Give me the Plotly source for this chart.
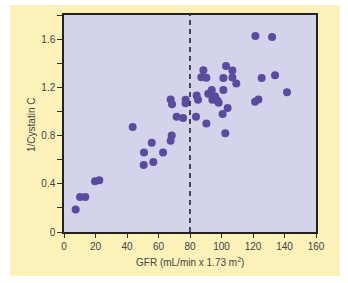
import plotly.graph_objects as go

gfr = [7.4, 10.2, 13.5, 19.7, 22.4, 43.6, 50.8, 50.6, 55.7, 56.7, 62.9, 67.7, 68.4,
       67.7, 68.6, 71.5, 75.6, 77.2, 77.2, 83.8, 84.2, 85.1, 87.2, 88.5, 90.4, 90.4,
       91.6, 93.8, 94.2, 95.9, 97.4, 98.2, 100.7, 101.2, 101.2, 102.4, 102.9, 103.9,
       106.9, 106.9, 109.4, 121.5, 121.3, 123.4, 125.5, 132.1, 134.0, 141.6]
inv_cystatin = [0.187, 0.29, 0.29, 0.42, 0.43, 0.87, 0.66, 0.555, 0.74, 0.58, 0.66, 0.756, 0.80,
                1.10, 1.06, 0.957, 0.946, 1.097, 1.067, 0.957, 1.133, 1.097, 1.284, 1.342, 1.28, 0.90,
                1.146, 1.177, 1.097, 1.127, 1.09, 1.072, 0.979, 1.177, 1.278, 0.82, 1.377, 1.028,
                1.339, 1.281, 1.232, 1.625, 1.08, 1.10, 1.278, 1.617, 1.30, 1.16]

cutoff = 80
x_title = "GFR (mL/min x 1.73 m<sup>2</sup>)"
y_title = "1/Cystatin C"

fig = go.Figure()
fig.add_trace(go.Scatter(
    x=gfr, y=inv_cystatin, mode="markers",
    marker=dict(size=8, color="#5A4B9E", line=dict(width=0)),
    hoverinfo="skip", showlegend=False))

# figure is the yellow panel (330x271), placed at (10,5) in the white page
W, H = 330, 271
l, r, t, b = 54, 24, 8, 44
pw, ph = W - l - r, H - t - b
OX, OY = 10, 5
def px_x(p): return (p - OX - l) / pw
def px_y(p): return (H - b - (p - OY)) / ph

fig.add_shape(type="line", xref="x", yref="paper", x0=cutoff, x1=cutoff, y0=0, y1=1,
              line=dict(color="#1a1a1a", width=1.5, dash="5px,4px"))

fig.add_annotation(text=x_title, xref="paper", yref="paper",
                   x=px_x(190), y=px_y(262), showarrow=False,
                   xanchor="center", yanchor="middle",
                   font=dict(size=10, color="#444"))
fig.add_annotation(text=y_title, xref="paper", yref="paper",
                   x=px_x(32), y=px_y(124), showarrow=False, textangle=-90,
                   xanchor="center", yanchor="middle",
                   font=dict(size=10, color="#444"))

fig.update_layout(
    width=W, height=H,
    margin=dict(l=l, r=r, t=t, b=b),
    paper_bgcolor="#FBF1B9", plot_bgcolor="#D4D3EC",
    font=dict(family="Liberation Sans, Arial, sans-serif", size=10, color="#444"),
    xaxis=dict(range=[0, 160], tick0=0, dtick=20, ticks="outside", ticklen=4,
               tickcolor="#333", showline=True, linecolor="#222", linewidth=1.5,
               mirror=True, showgrid=False, zeroline=False),
    yaxis=dict(range=[0, 1.8], tick0=0, dtick=0.4, ticks="outside",
               ticklen=5, tickcolor="#333", showline=True, linecolor="#222",
               linewidth=1.5, mirror=True, showgrid=False, zeroline=False,
               minor=dict(dtick=0.2, ticks="outside", ticklen=5, tickcolor="#333",
                          showgrid=False)),
)

post = ("document.documentElement.style.background='white';"
        "document.body.style.margin='0';document.body.style.background='white';"
        "var d=document.getElementById('{plot_id}');"
        "d.style.position='absolute';d.style.left='%dpx';d.style.top='%dpx';" % (OX, OY))
fig.write_html("out.html", post_script=post)
